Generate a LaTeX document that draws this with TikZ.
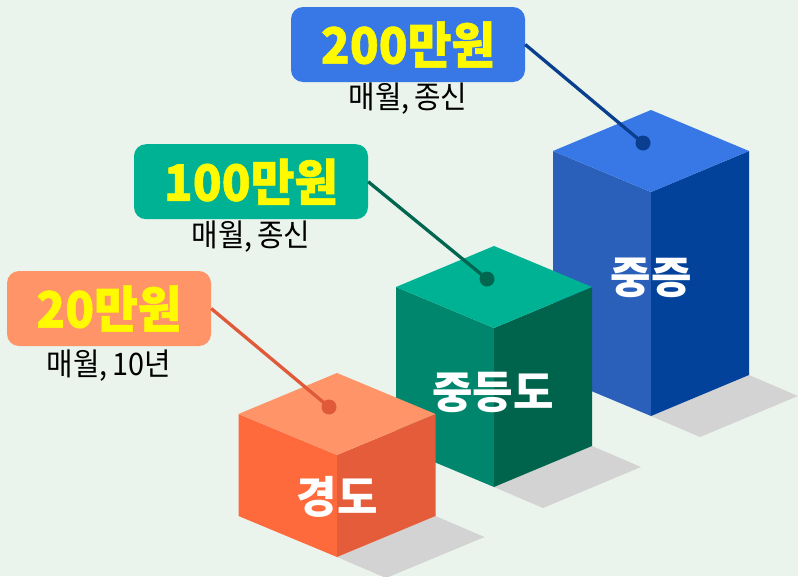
\documentclass[tikz,border=0pt]{standalone}
\usepackage{fontspec}
\newfontfamily\kr{Noto Sans CJK KR}
\newfontfamily\krheavy[FakeBold=1.2]{Noto Sans CJK KR}
\definecolor{bg}{HTML}{EAF4EC}
\definecolor{shd}{HTML}{D3D3D3}
\definecolor{otop}{HTML}{FF9468}
\definecolor{oleft}{HTML}{FF6A3C}
\definecolor{oright}{HTML}{E45C3A}
\definecolor{oline}{HTML}{E05A3A}
\definecolor{gtop}{HTML}{00B294}
\definecolor{gleft}{HTML}{00866D}
\definecolor{gright}{HTML}{00634C}
\definecolor{gline}{HTML}{00664F}
\definecolor{btop}{HTML}{3878E6}
\definecolor{bleft}{HTML}{2A5FBA}
\definecolor{bright}{HTML}{03429A}
\definecolor{bline}{HTML}{0A3F8F}
\definecolor{ylw}{HTML}{FFFA00}
\newcommand\mycube[8]{%
  \fill[shd] (#1,#2+#5) -- (#1+#3,#2+#5-#4) -- (#1+#3+49,#2+#5-#4+21) -- (#1+49,#2+#5+21) -- cycle;
  \fill[#7] (#1-#3,#2-#4) -- (#1,#2) -- (#1,#2+#5) -- (#1-#3,#2+#5-#4) -- cycle;
  \fill[#8] (#1,#2) -- (#1+#3,#2-#4) -- (#1+#3,#2+#5-#4) -- (#1,#2+#5) -- cycle;
  \fill[#6] (#1,#2) -- (#1-#3,#2-#4) -- (#1,#2-2*#4) -- (#1+#3,#2-#4) -- cycle;
}
\newcommand\pricetxt[1]{\scalebox{0.95}[1]{\krheavy\bfseries\fontsize{50}{50}\selectfont #1}}
\newcommand\subtx[1]{\scalebox{0.93}[1]{\kr\fontsize{31}{31}\selectfont #1}}
\tikzset{
  pricebox/.style={rounded corners=12pt, minimum height=75pt, inner sep=0pt, text=ylw},
  subtxt/.style={inner sep=0pt, text=black},
  cubetxt/.style={inner sep=0pt, text=white, font=\kr\bfseries\fontsize{44}{44}\selectfont},
  dotnode/.style={circle, inner sep=0pt, minimum size=15pt},
  conn/.style={line width=3.3pt}
}
\begin{document}
\begin{tikzpicture}[x=1pt,y=-1pt]
\useasboundingbox (0,0) rectangle (798,576);
\fill[bg] (0,0) rectangle (798,576);
% cubes, back to front
\mycube{651}{192}{98}{41}{224}{btop}{bleft}{bright}
\mycube{494}{328}{98}{41}{159}{gtop}{gleft}{gright}
\mycube{337}{455}{98.5}{41}{102}{otop}{oleft}{oright}
% cube labels
\node[cubetxt] (bt) at (651,278) {중증};
\node[cubetxt] (gt) at (493,392) {중등도};
\node[cubetxt] (ot) at (337,497) {경도};
% price boxes
\node[pricebox, fill=otop, minimum width=204pt] (ol) at (109,308.5) {\pricetxt{20만원}};
\node[pricebox, fill=gtop, minimum width=234pt] (gl) at (251,181.7) {\pricetxt{100만원}};
\node[pricebox, fill=btop, minimum width=234pt] (bl) at (408,44.5) {\pricetxt{200만원}};
\node[subtxt] (os) at (109,366) {\subtx{매월,\kern5pt 10년}};
\node[subtxt] (gs) at (251,237) {\subtx{매월,\kern5pt 종신}};
\node[subtxt] (bs) at (408,99) {\subtx{매월,\kern5pt 종신}};
% dots
\node[dotnode, fill=oline] (od) at (329,407) {};
\node[dotnode, fill=gline] (gd) at (487,279) {};
\node[dotnode, fill=bline] (bd) at (643,143) {};
% connectors
\draw[conn, oline] (ol.east) -- (od.center);
\draw[conn, gline] (gl.east) -- (gd.center);
\draw[conn, bline] (bl.east) -- (bd.center);
\end{tikzpicture}
\end{document}
